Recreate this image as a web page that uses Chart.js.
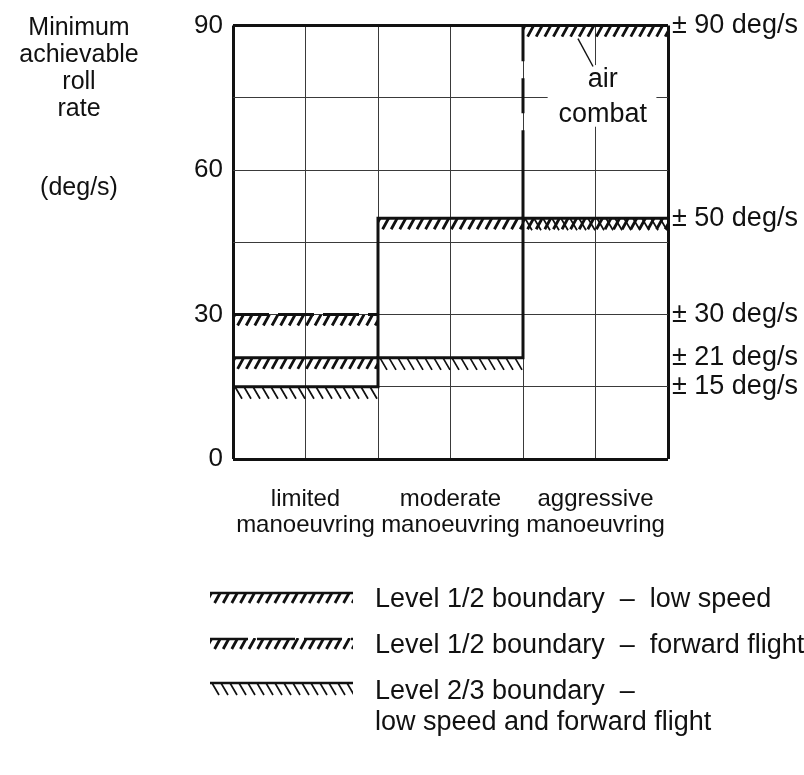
<!DOCTYPE html>
<html>
<head>
<meta charset="utf-8">
<title>Minimum achievable roll rate</title>
<script src="https://cdn.jsdelivr.net/npm/chart.js@4.4.1/dist/chart.umd.min.js"></script>
<style>
  html, body { margin: 0; padding: 0; background: #fff; }
  #wrap { position: relative; width: 804px; height: 775px; }
</style>
</head>
<body>
<div id="wrap"><canvas id="rollChart"></canvas></div>
<script>
// categories and boundary values (deg/s)
const categories = [["limited", "manoeuvring"], ["moderate", "manoeuvring"], ["aggressive", "manoeuvring"]];
const level12LowSpeed = [21, 50, 90];
const level12Forward = [30, 50, 50];
const level23 = [15, 21, 50];
const leftTicks = [0, 30, 60, 90];
const rightTicks = [90, 50, 30, 21, 15];
const yTitle = ["Minimum", "achievable", "roll", "rate", "", "(deg/s)"];
const legendItems = [
  { style: "slash", text: ["Level 1/2 boundary  \u2013  low speed"] },
  { style: "slashDashed", text: ["Level 1/2 boundary  \u2013  forward flight"] },
  { style: "back", text: ["Level 2/3 boundary  \u2013", "low speed and forward flight"] }
];

const FONT = "'Liberation Sans', Arial, Helvetica, sans-serif";
const INK = "#111";
const GRID = "#3a3a3a";

function stepPoints(values, from, to) {
  const pts = [];
  for (let i = from; i < to; i++) {
    pts.push({ x: i, y: values[i] }, { x: i + 1, y: values[i] });
  }
  return pts;
}

// hatch bands hanging below each boundary
const bands = [];
categories.forEach((c, i) => {
  bands.push({ cat: i, value: level12LowSpeed[i], style: "slash" });
  if (level12Forward[i] !== level12LowSpeed[i]) bands.push({ cat: i, value: level12Forward[i], style: "slash" });
  bands.push({ cat: i, value: level23[i], style: "back" });
});

function drawHatch(ctx, style, x0, x1, yTop) {
  const h = style === "back" ? 12 : 11;
  ctx.save();
  ctx.beginPath();
  ctx.rect(x0, yTop, x1 - x0, h + 1);
  ctx.clip();
  ctx.strokeStyle = INK;
  ctx.lineCap = "butt";
  ctx.beginPath();
  if (style === "back") {
    ctx.lineWidth = 1.7;
    for (let x = x0 + 2; x < x1; x += 9) {
      ctx.moveTo(x, yTop);
      ctx.lineTo(x + 7, yTop + h);
    }
  } else {
    ctx.lineWidth = 2.8;
    for (let x = x0 - 4; x < x1; x += 8.6) {
      ctx.moveTo(x, yTop + h);
      ctx.lineTo(x + 6, yTop);
    }
  }
  ctx.stroke();
  ctx.restore();
}

const bandPlugin = {
  id: "bandPlugin",
  beforeDatasetsDraw(chart) {
    const { ctx, chartArea, scales: { x, y } } = chart;
    ctx.save();
    ctx.beginPath();
    ctx.rect(chartArea.left, chartArea.top, chartArea.width, chartArea.height);
    ctx.clip();
    bands.forEach(b => {
      drawHatch(ctx, b.style, x.getPixelForValue(b.cat), x.getPixelForValue(b.cat + 1), y.getPixelForValue(b.value));
    });

    // air combat note
    const bx0 = x.getPixelForValue(2.17), bx1 = x.getPixelForValue(2.92);
    const by0 = y.getPixelForValue(81.8), by1 = y.getPixelForValue(69);
    ctx.fillStyle = "#fff";
    ctx.fillRect(bx0, by0, bx1 - bx0, by1 - by0);
    ctx.fillStyle = INK;
    ctx.font = "27px " + FONT;
    ctx.textAlign = "center";
    ctx.textBaseline = "middle";
    ctx.fillText("air", x.getPixelForValue(2.55), y.getPixelForValue(78.8));
    ctx.fillText("combat", x.getPixelForValue(2.55), y.getPixelForValue(71.6));
    ctx.strokeStyle = INK;
    ctx.lineWidth = 1.4;
    ctx.beginPath();
    ctx.moveTo(x.getPixelForValue(2.379), y.getPixelForValue(87.3));
    ctx.lineTo(x.getPixelForValue(2.483), y.getPixelForValue(81.5));
    ctx.stroke();
    ctx.restore();
  },
  afterDraw(chart) {
    const { ctx } = chart;
    ctx.save();
    ctx.fillStyle = INK;
    ctx.textBaseline = "alphabetic";

    // vertical axis caption
    ctx.font = "25px " + FONT;
    ctx.textAlign = "center";
    yTitle.forEach((t, i) => ctx.fillText(t, 79, 35 + i * 27 + (i === 5 ? 25 : 0)));

    // legend
    const rowBase = [607, 653, 699];
    legendItems.forEach((item, i) => {
      const base = rowBase[i];
      const top = base - 15;
      if (item.style === "back") {
        drawHatch(ctx, "back", 210, 353, top - 1);
        ctx.strokeStyle = INK;
        ctx.lineWidth = 2.5;
        ctx.beginPath();
        ctx.moveTo(210, top - 1);
        ctx.lineTo(353, top - 1);
        ctx.stroke();
      } else {
        drawHatch(ctx, "slash", 210, 353, top);
        ctx.strokeStyle = INK;
        ctx.lineWidth = 2.5;
        ctx.setLineDash(item.style === "slashDashed" ? [38, 9] : []);
        ctx.beginPath();
        ctx.moveTo(210, top + 1);
        ctx.lineTo(353, top + 1);
        ctx.stroke();
        ctx.setLineDash([]);
      }
      ctx.font = "27px " + FONT;
      ctx.textAlign = "left";
      item.text.forEach((t, j) => ctx.fillText(t, 375, base + j * 31));
    });
    ctx.restore();
  }
};

const lineStyle = {
  borderColor: INK,
  borderWidth: 3,
  pointRadius: 0,
  fill: false,
  tension: 0
};

new Chart(document.getElementById("rollChart"), {
  type: "line",
  data: {
    datasets: [
      Object.assign({
        label: "Level 1/2 boundary - low speed",
        data: stepPoints(level12LowSpeed, 0, 3),
        segment: {
          // air combat rise drawn broken
          borderDash: c => (c.p0.parsed.x === c.p1.parsed.x && c.p0.parsed.x === 2) ? [88, 17, 35, 17, 35, 17] : undefined
        }
      }, lineStyle),
      Object.assign({
        label: "Level 1/2 boundary - forward flight",
        data: stepPoints(level12Forward, 0, 1),
        borderDash: [36, 9]
      }, lineStyle),
      Object.assign({
        label: "Level 2/3 boundary",
        data: stepPoints(level23, 0, 3)
      }, lineStyle)
    ]
  },
  options: {
    responsive: true,
    maintainAspectRatio: false,
    animation: false,
    layout: { padding: { top: 23, left: 0, right: 0, bottom: 0 } },
    plugins: { legend: { display: false }, tooltip: { enabled: false } },
    scales: {
      x: {
        type: "linear",
        min: 0,
        max: 3,
        afterFit: s => { s.height = 316; },
        afterBuildTicks: s => { s.ticks = [0, 0.5, 1, 1.5, 2, 2.5, 3].map(v => ({ value: v })); },
        grid: {
          color: c => (c.tick.value === 0 || c.tick.value === 3) ? INK : GRID,
          lineWidth: c => (c.tick.value === 0 || c.tick.value === 3) ? 3 : 1,
          drawTicks: false
        },
        border: { display: false },
        ticks: {
          autoSkip: false,
          maxRotation: 0,
          padding: 27,
          color: INK,
          font: { family: FONT, size: 24, lineHeight: 1.1 },
          callback: v => (v % 1 === 0.5) ? categories[Math.floor(v)] : ""
        }
      },
      y: {
        min: 0,
        max: 90,
        afterFit: s => { s.width = 233; },
        ticks: {
          stepSize: 15,
          padding: 10,
          color: INK,
          font: { family: FONT, size: 26 },
          callback: v => leftTicks.includes(v) ? String(v) : ""
        },
        grid: {
          color: c => (c.tick.value === 0 || c.tick.value === 90) ? INK : GRID,
          lineWidth: c => (c.tick.value === 0 || c.tick.value === 90) ? 3 : 1,
          drawTicks: false
        },
        border: { display: false }
      },
      y2: {
        position: "right",
        min: 0,
        max: 90,
        afterFit: s => { s.width = 136; },
        afterBuildTicks: s => { s.ticks = rightTicks.map(v => ({ value: v })); },
        ticks: {
          padding: 4,
          color: INK,
          font: { family: FONT, size: 27 },
          callback: v => "\u00b1 " + v + " deg/s"
        },
        grid: { drawOnChartArea: false, drawTicks: false },
        border: { display: false }
      }
    }
  },
  plugins: [bandPlugin]
});
</script>
</body>
</html>
